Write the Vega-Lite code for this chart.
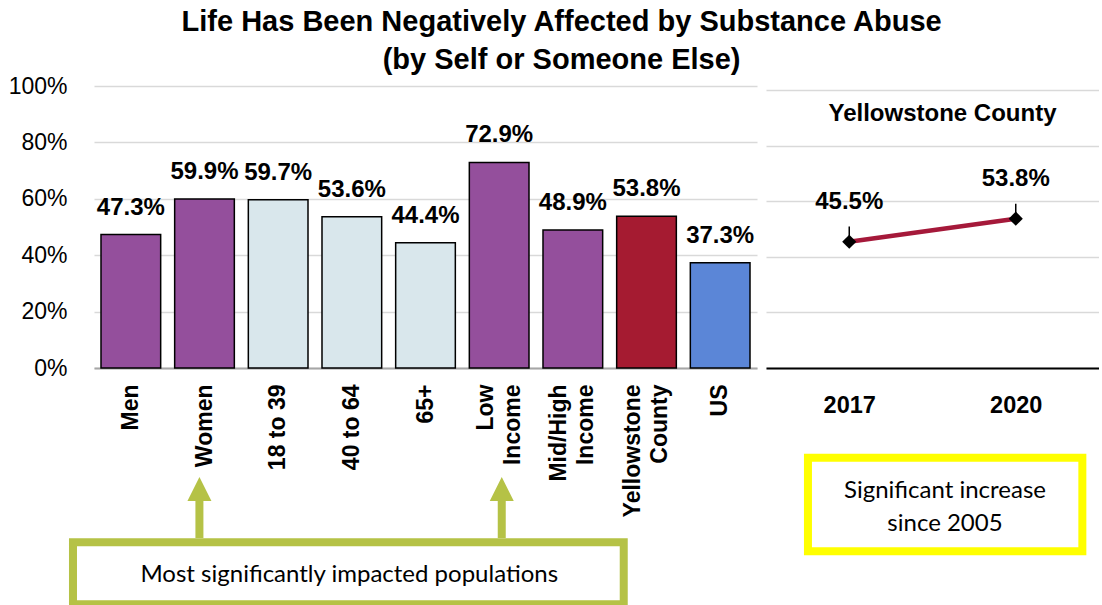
{
  "$schema": "https://vega.github.io/schema/vega-lite/v6.json",
  "background": "white",
  "padding": {"left": 8, "top": 8, "right": 0, "bottom": 0},
  "title": {
    "text": ["Life Has Been Negatively Affected by Substance Abuse", "(by Self or Someone Else)"],
    "font": "Liberation Sans",
    "fontSize": 29,
    "fontWeight": "bold",
    "color": "black",
    "lineHeight": 38,
    "anchor": "middle",
    "dx": 8,
    "offset": 0
  },
  "config": {
    "view": {"stroke": null},
    "axis": {
      "labelFont": "Liberation Sans",
      "labelColor": "black",
      "gridColor": "#d9d9d9",
      "gridWidth": 1.5,
      "ticks": false,
      "title": null
    }
  },
  "spacing": 9,
  "hconcat": [
    {
      "width": 663,
      "height": 282,
      "resolve": {"scale": {"x": "independent"}},
      "layer": [
        {
          "data": {
            "values": [
              {"group": "Men", "kind": "highlight", "pct": 0.473},
              {"group": "Women", "kind": "highlight", "pct": 0.599},
              {"group": "18 to 39", "kind": "other", "pct": 0.597},
              {"group": "40 to 64", "kind": "other", "pct": 0.536},
              {"group": "65+", "kind": "other", "pct": 0.444},
              {"group": "Low Income", "kind": "highlight", "pct": 0.729},
              {"group": "Mid/High Income", "kind": "highlight", "pct": 0.489},
              {"group": "Yellowstone County", "kind": "county", "pct": 0.538},
              {"group": "US", "kind": "us", "pct": 0.373}
            ]
          },
          "encoding": {
            "x": {
              "field": "group",
              "type": "nominal",
              "sort": null,
              "scale": {"paddingInner": 0.19, "paddingOuter": 0.095},
              "axis": {
                "labelAngle": -90,
                "labelFontSize": 23,
                "labelFontWeight": "bold",
                "labelPadding": 16,
                "labelLimit": 0,
                "labelLineHeight": 27,
                "labelExpr": "datum.value == 'Low Income' ? ['Low\u00a0\u00a0\u00a0', 'Income'] : datum.value == 'Mid/High Income' ? ['Mid/High', 'Income\u00a0'] : datum.value == 'Yellowstone County' ? ['Yellowstone', 'County\u00a0\u00a0\u00a0\u00a0'] : datum.label",
                "labelOffset": {
                  "condition": {
                    "test": "datum.value == 'Low Income' || datum.value == 'Mid/High Income' || datum.value == 'Yellowstone County'",
                    "value": -13.5
                  },
                  "value": 0
                },
                "domainColor": "#a6a6a6",
                "domainWidth": 2,
                "grid": false
              }
            },
            "y": {
              "field": "pct",
              "type": "quantitative",
              "scale": {"domain": [0, 1], "nice": false},
              "axis": {
                "format": ".0%",
                "values": [0, 0.2, 0.4, 0.6, 0.8, 1],
                "labelFontSize": 23,
                "labelPadding": 27,
                "domain": false,
                "grid": true,
                "minExtent": 84,
                "maxExtent": 84
              }
            }
          },
          "layer": [
            {
              "mark": {"type": "bar", "stroke": "black", "strokeWidth": 1.5},
              "encoding": {
                "color": {
                  "field": "kind",
                  "type": "nominal",
                  "scale": {
                    "domain": ["highlight", "other", "county", "us"],
                    "range": ["#944f9c", "#d9e7ec", "#a51b31", "#5b86d7"]
                  },
                  "legend": null
                }
              }
            },
            {
              "mark": {
                "type": "text",
                "font": "Liberation Sans",
                "fontSize": 24,
                "fontWeight": "bold",
                "color": "black",
                "baseline": "middle",
                "dy": -27
              },
              "encoding": {"text": {"field": "pct", "type": "quantitative", "format": ".1%"}}
            }
          ]
        },
        {
          "data": {"values": [{"note": "Most significantly impacted populations"}]},
          "layer": [
            {
              "mark": {"type": "rect", "fill": "white", "stroke": "#b5c246", "strokeWidth": 8},
              "encoding": {
                "x": {"datum": -0.0317, "type": "quantitative", "scale": {"domain": [0, 1], "nice": false, "zero": false}, "axis": null},
                "x2": {"datum": 0.799},
                "y": {"datum": -0.618, "type": "quantitative"},
                "y2": {"datum": -0.838}
              }
            },
            {
              "mark": {"type": "text", "font": "Lato", "fontSize": 24, "color": "black", "baseline": "middle", "align": "center"},
              "encoding": {
                "x": {"datum": 0.385, "type": "quantitative"},
                "y": {"datum": -0.735, "type": "quantitative"},
                "text": {"field": "note"}
              }
            }
          ]
        },
        {
          "data": {"values": [{"target": "Women", "pos": 0.159}, {"target": "Low Income", "pos": 0.615}]},
          "layer": [
            {
              "mark": {"type": "rule", "color": "#b5c246", "strokeWidth": 8},
              "encoding": {
                "x": {"field": "pos", "type": "quantitative", "scale": {"domain": [0, 1], "nice": false, "zero": false}, "axis": null},
                "y": {"datum": -0.603, "type": "quantitative"},
                "y2": {"datum": -0.469}
              }
            },
            {
              "mark": {"type": "point", "shape": "M0,-1L1,1L-1,1Z", "filled": true, "color": "#b5c246", "size": 576, "opacity": 1},
              "encoding": {
                "x": {"field": "pos", "type": "quantitative"},
                "y": {"datum": -0.429, "type": "quantitative"}
              }
            }
          ]
        }
      ]
    },
    {
      "width": 333,
      "height": 282,
      "title": {
        "text": "Yellowstone County",
        "font": "Liberation Sans",
        "fontSize": 24,
        "fontWeight": "bold",
        "color": "black",
        "anchor": "middle",
        "dx": 10,
        "offset": -40
      },
      "resolve": {"scale": {"x": "independent"}},
      "layer": [
        {
          "data": {
            "values": [
              {"year": "2017", "pct": 0.455, "upper": 0.51},
              {"year": "2020", "pct": 0.538, "upper": 0.592}
            ]
          },
          "encoding": {
            "x": {
              "field": "year",
              "type": "ordinal",
              "scale": {"type": "point", "padding": 0.5},
              "axis": {
                "labelAngle": 0,
                "labelFontSize": 23.5,
                "labelFontWeight": "bold",
                "labelPadding": 25,
                "domainColor": "black",
                "domainWidth": 2,
                "grid": false
              }
            },
            "y": {
              "field": "pct",
              "type": "quantitative",
              "scale": {"domain": [0, 1.016], "nice": false},
              "axis": {
                "values": [0, 0.2, 0.4, 0.6, 0.8, 1],
                "labels": false,
                "domain": false,
                "grid": true,
                "minExtent": 0,
                "maxExtent": 0
              }
            }
          },
          "layer": [
            {
              "mark": {"type": "rule", "color": "black", "strokeWidth": 1.5},
              "encoding": {"y2": {"field": "upper"}}
            },
            {
              "mark": {"type": "line", "color": "#a5193a", "strokeWidth": 4.5}
            },
            {
              "mark": {"type": "point", "shape": "diamond", "filled": true, "color": "black", "size": 200, "opacity": 1}
            },
            {
              "mark": {
                "type": "text",
                "font": "Liberation Sans",
                "fontSize": 24,
                "fontWeight": "bold",
                "color": "black",
                "baseline": "middle",
                "dy": -40
              },
              "encoding": {"text": {"field": "pct", "type": "quantitative", "format": ".1%"}}
            }
          ]
        },
        {
          "data": {"values": [{"note": ["Significant increase", "since 2005"]}]},
          "layer": [
            {
              "mark": {"type": "rect", "fill": "white", "stroke": "#ffff00", "strokeWidth": 8},
              "encoding": {
                "x": {"datum": 0.126, "type": "quantitative", "scale": {"domain": [0, 1], "nice": false, "zero": false}, "axis": null},
                "x2": {"datum": 0.95},
                "y": {"datum": -0.3235, "type": "quantitative"},
                "y2": {"datum": -0.66}
              }
            },
            {
              "mark": {"type": "text", "font": "Lato", "fontSize": 24, "color": "black", "baseline": "middle", "align": "center", "lineHeight": 33},
              "encoding": {
                "x": {"datum": 0.5375, "type": "quantitative"},
                "y": {"datum": -0.444, "type": "quantitative"},
                "text": {"field": "note"}
              }
            }
          ]
        }
      ]
    }
  ]
}
